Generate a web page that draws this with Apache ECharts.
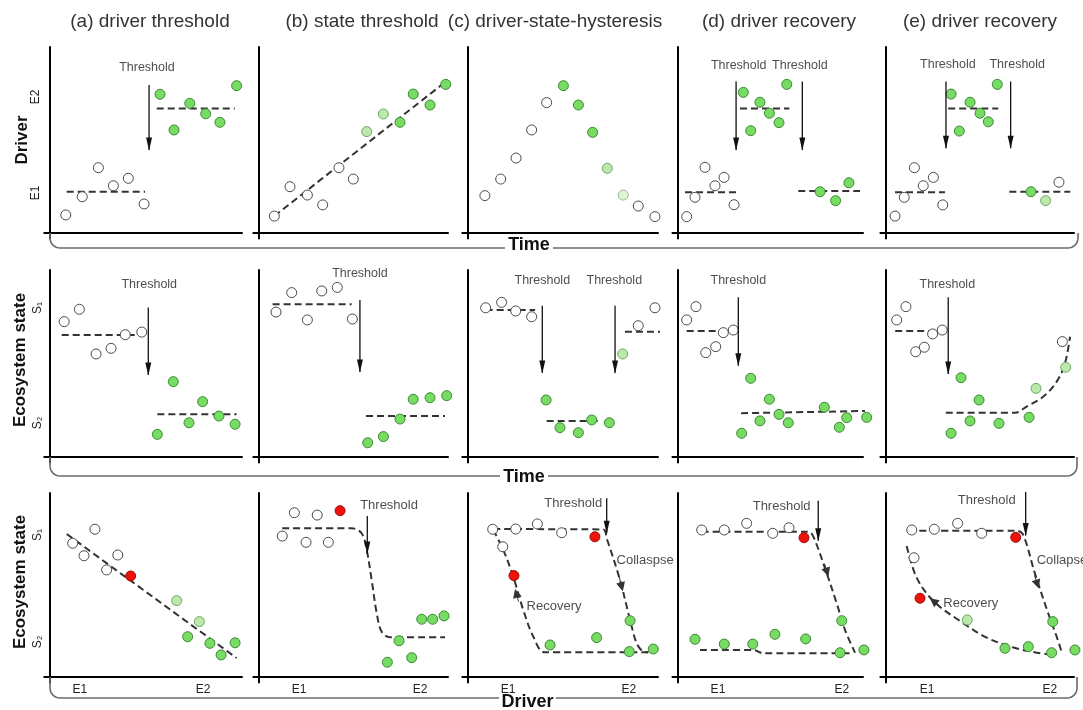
<!DOCTYPE html>
<html><head><meta charset="utf-8">
<script src="https://cdn.jsdelivr.net/npm/echarts@6/dist/echarts.min.js"></script>
<style>html,body{margin:0;padding:0;background:#fff}#c{width:1083px;height:710px}</style>
</head><body><div id="c"></div>
<script>
// ================= DATA =================
const panelTitles = ['(a) driver threshold', '(b) state threshold', '(c) driver-state-hysteresis', '(d) driver recovery', '(e) driver recovery'];
const rowTitles = ['Driver', 'Ecosystem state', 'Ecosystem state'];
const bracketNames = ['Time', 'Time', 'Driver'];
const rowTickLabels = [['E1', 'E2'], ['S\u2081', 'S\u2082'], ['S\u2081', 'S\u2082']];
const rowTickValues = [[21.5, 73.1], [79.7, 18.2], [77.2, 19.0]];
const driverTickLabels = ['E1', 'E2'];
const a3Ticks = [15.6, 79.7], b3Ticks = [21.2, 85.2], c3Ticks = [21.1, 84.7], d3Ticks = [21.6, 88.6], e3Ticks = [21.8, 87.2];

// Row 1: driver over time
const a1Open = [[8.2,9.7],[16.8,19.5],[25.2,35.1],[33.0,25.4],[40.8,29.4],[49.0,15.6]];
const a1Green = [[57.3,74.6],[64.6,55.4],[72.8,69.7],[81.1,64.1],[88.5,59.5],[97.2,79.2]];
const a1Fits = [[[8.7,22.2],[49.5,22.2]], [[55.6,67.0],[96.2,67.0]]];
const a1Arrows = [[51.6,79.6,44.6]];
const a1Notes = [[50.5,88.7,'Threshold']];

const b1Open = [[8.1,9.1],[16.4,24.9],[25.6,20.4],[33.7,15.1],[42.3,35.1],[49.9,29.0]];
const b1Light = [[57.0,54.5],[65.8,64.0]];
const b1Green = [[74.6,59.5],[81.6,74.7],[90.5,68.8],[98.8,79.9]];
const b1Fits = [[[8.1,9.1],[100,82.3]]];

const c1Open = [[8.9,20.1],[17.2,29.0],[25.3,40.3],[33.5,55.4],[41.4,70.1],[89.6,14.5],[98.4,8.8]];
const c1Green = [[50.2,79.2],[58.1,68.8],[65.6,54.1]];
const c1Light = [[73.3,34.8]];
const c1Pale = [[81.7,20.4]];

const d1Open = [[4.7,8.8],[9.2,19.2],[14.6,35.3],[20.0,25.4],[24.9,29.9],[30.3,15.2]];
const d1Green = [[35.3,75.6],[39.3,55.0],[44.3,70.3],[49.4,64.4],[54.6,59.3],[58.8,79.9],[76.8,22.2],[85.2,17.4],[92.4,27.0]];
const d1Fits = [[[3.8,21.9],[31.7,21.9]], [[33.5,67.0],[60.2,67.0]], [[65.0,22.6],[98.4,22.6]]];
const d1Arrows = [[31.4,81.4,44.6],[67.2,81.4,44.6]];
const d1Notes = [[32.8,89.9,'Threshold'],[65.9,89.9,'Threshold']];

const e1Open = [[4.8,9.1],[9.7,19.2],[15.1,35.1],[19.8,25.4],[25.2,29.9],[30.2,15.1],[92.0,27.3]];
const e1Green = [[34.6,74.7],[39.0,54.8],[44.7,70.3],[50.0,64.4],[54.4,59.8],[59.2,79.9],[77.1,22.2]];
const e1Light = [[84.9,17.4]];
const e1Fits = [[[4.8,21.9],[31.4,21.9]], [[33.1,67.0],[59.7,67.0]], [[65.6,22.2],[98.0,22.2]]];
const e1Arrows = [[31.9,81.4,45.5],[66.3,81.4,45.5]];
const e1Notes = [[32.9,90.3,'Threshold'],[69.8,90.3,'Threshold']];

// Row 2: ecosystem state over time
const a2Open = [[7.4,72.4],[15.3,79.0],[24.0,55.1],[31.8,58.1],[39.2,65.4],[47.8,66.8]];
const a2Green = [[55.9,12.1],[64.2,40.3],[72.4,18.3],[79.5,29.6],[88.0,21.9],[96.4,17.5]];
const a2Fits = [[[6.1,65.2],[46.9,65.2]], [[55.9,22.8],[97.2,22.8]]];
const a2Arrows = [[51.2,80.0,43.9]];
const a2Notes = [[51.7,92.0,'Threshold']];

const b2Open = [[9.0,77.5],[17.3,87.9],[25.6,73.3],[33.2,88.8],[41.4,90.7],[49.4,73.8]];
const b2Green = [[57.5,7.6],[65.8,10.9],[74.6,20.3],[81.6,30.9],[90.5,31.7],[99.3,32.8]];
const b2Fits = [[[7.2,81.7],[49.0,81.7]], [[56.6,21.9],[98.4,21.9]]];
const b2Arrows = [[53.4,84.0,45.4]];
const b2Notes = [[53.4,97.9,'Threshold']];

const c2Open = [[9.3,79.8],[17.7,82.7],[25.1,78.1],[33.5,75.0],[89.6,70.2],[98.4,79.8]];
const c2Green = [[41.1,30.5],[48.4,15.7],[58.1,13.0],[65.1,19.8],[74.4,18.3]];
const c2Light = [[81.4,55.1]];
const c2Fits = [[[9.3,78.6],[35.3,78.6]], [[41.4,19.3],[69.5,19.3]], [[82.6,67.0],[102.8,67.0]]];
const c2Arrows = [[39.1,80.9,44.9],[77.4,80.9,44.9]];
const c2Notes = [[39.1,94.1,'Threshold'],[77.0,94.1,'Threshold']];

const d2Open = [[4.7,73.3],[9.7,80.4],[15.0,55.8],[20.4,59.0],[24.5,66.5],[29.9,67.9]];
const d2Green = [[34.4,12.7],[39.3,42.1],[44.3,19.3],[49.4,30.9],[54.6,22.8],[59.6,18.3],[79.1,26.6],[87.2,15.9],[91.2,21.0],[102.0,21.2]];
const d2Fits = [[[4.7,67.4],[31.0,67.4]], [[34.1,23.4],[101.1,24.6]]];
const d2Arrows = [[32.6,85.4,48.8]];
const d2Notes = [[32.6,94.2,'Threshold']];

const e2Open = [[5.7,73.3],[10.6,80.4],[15.8,56.3],[20.4,58.7],[24.8,65.8],[29.9,67.9],[93.8,61.7]];
const e2Green = [[34.6,12.7],[39.9,42.4],[44.7,19.3],[49.5,30.5],[60.1,18.0],[76.1,21.2]];
const e2Light = [[79.8,36.7],[95.6,48.0]];
const e2Fits = [[[4.9,67.4],[32.3,67.4]], [[31.8,23.7],[68.6,23.7],[74.8,27.0],[83.7,32.3],[90.8,40.3],[95.2,50.1],[97.9,64.3]]];
const e2Arrows = [[33.1,85.4,44.4]];
const e2Notes = [[32.6,92.0,'Threshold']];

// Row 3: ecosystem state vs driver
const a3Open = [[11.8,72.7],[17.7,65.9],[23.4,80.3],[29.5,58.2],[35.3,66.3]];
const a3Red = [[42.0,54.9]];
const a3Light = [[66.0,41.5],[77.8,30.1]];
const a3Green = [[71.7,21.9],[83.3,18.3],[89.1,12.0],[96.4,18.6]];
const a3Fits = [[[8.7,77.7],[97.2,10.3]]];

const b3Open = [[12.3,76.6],[18.7,89.3],[24.9,73.2],[30.8,88.0],[36.7,73.2]];
const b3Red = [[42.9,90.4]];
const b3Green = [[67.9,8.0],[74.1,19.7],[80.8,10.5],[86.1,31.4],[91.9,31.4],[97.9,33.2]];
const b3Fits = [[[12.3,80.8],[49.0,80.8],[54.3,78.1],[57.0,69.0],[59.6,52.7],[62.3,34.6],[64.9,24.6],[69.3,21.6],[98.4,21.6]]];
const b3Arrows = [[57.3,87.5,66.8]];
const b3Notes = [[68.8,93.5,'Threshold']];

const c3Open = [[13.0,80.3],[18.3,70.8],[25.1,80.4],[36.5,83.2],[49.3,78.4]];
const c3Red = [[66.8,76.2],[24.2,55.1]];
const c3Green = [[43.2,17.4],[67.7,21.4],[85.3,30.6],[84.9,13.8],[97.5,15.2]];
const c3Fits = [[[13.3,80.4],[71.2,80.2],[73.0,75.4],[80.0,52.7],[85.3,31.0],[88.8,18.3],[92.3,13.8],[94.9,13.4]],
                [[94.9,13.4],[40.5,13.4],[34.4,21.9],[29.1,36.4],[23.8,54.5],[18.6,69.0],[13.3,79.9]]];
const c3Arrows = [[73.0,97.1,78.1]];
const c3Flow = [[[79.6,54.3],[80.9,49.0]], [[26.6,41.0],[25.4,45.5]]];
const c3Notes = [[55.4,94.6,'Threshold'],[93.2,63.6,'Collaspse'],[45.3,38.2,'Recovery']];

const d3Open = [[12.8,79.9],[25.0,79.9],[37.1,83.5],[51.2,78.1],[60.0,81.1]];
const d3Red = [[68.1,75.7]];
const d3Green = [[9.2,20.5],[25.0,17.9],[40.4,17.9],[52.4,23.2],[69.0,20.7],[88.5,30.6],[87.6,13.2],[100.5,14.7]];
const d3Fits = [[[12.8,78.9],[70.5,78.9],[73.2,76.2],[80.4,56.3],[85.8,40.0],[90.3,25.5],[95.7,13.2]],
                [[11.9,14.7],[40.7,14.7],[46.1,12.9],[94.8,12.9]]];
const d3Arrows = [[75.8,95.8,74.1]];
const d3Flow = [[[79.2,61.5],[80.6,57.0]]];
const d3Notes = [[56.0,92.9,'Threshold']];

const e3Open = [[13.7,79.9],[14.9,64.8],[25.7,80.3],[38.1,83.5],[50.9,78.1]];
const e3Red = [[69.0,75.9],[18.1,42.8]];
const e3Light = [[43.2,31.0]];
const e3Green = [[63.3,15.6],[75.7,16.5],[88.1,13.2],[88.7,30.1],[100.5,14.7]];
const e3Fits = [[[11.9,79.5],[69.5,79.5],[73.0,77.2],[79.2,56.3],[86.3,34.6],[90.8,21.9],[93.4,13.8]],
                [[11.0,71.2],[16.3,54.0],[25.2,41.3],[39.4,30.4],[53.6,21.4],[67.8,16.0],[80.2,13.2],[89.0,12.0]]];
const e3Arrows = [[74.3,100.5,76.9]];
const e3Flow = [[[79.0,55.2],[80.5,50.5]], [[28.5,38.7],[25.2,41.3]]];
const e3Notes = [[53.6,96.2,'Threshold'],[93.6,63.4,'Collapse'],[45.1,39.8,'Recovery']];

// ================= LAYOUT =================
const FONT = '"Liberation Sans", Arial, Helvetica, sans-serif';
const COLS = [[50,242],[259,448],[468,658],[678,863],[886,1074]];   // y-axis x, x-axis right end
const ROWS = [[47,233],[270,457],[493,677]];                        // y-axis top, x-axis y
const EXT = 3;
const titleX = [150, 362, 555, 779, 980];
const rowTitlePos = [[22,140],[20,360],[20,582]];
const rowTickMargin = [3, 1, 1];
const bracketY = [248, 476, 698];
const bracketRight = [1078, 1077, 1077];
const bracketText = [[508, 550, 245], [503, 545, 477], [502, 553, 702]];   // text left, right, y

const panels = [
  [
    {open:a1Open, green:a1Green, fits:a1Fits, arrows:a1Arrows, notes:a1Notes},
    {open:b1Open, green:b1Green, light:b1Light, fits:b1Fits},
    {open:c1Open, green:c1Green, light:c1Light, pale:c1Pale},
    {open:d1Open, green:d1Green, fits:d1Fits, arrows:d1Arrows, notes:d1Notes},
    {open:e1Open, green:e1Green, light:e1Light, fits:e1Fits, arrows:e1Arrows, notes:e1Notes}
  ],
  [
    {open:a2Open, green:a2Green, fits:a2Fits, arrows:a2Arrows, notes:a2Notes},
    {open:b2Open, green:b2Green, fits:b2Fits, arrows:b2Arrows, notes:b2Notes},
    {open:c2Open, green:c2Green, light:c2Light, fits:c2Fits, arrows:c2Arrows, notes:c2Notes},
    {open:d2Open, green:d2Green, fits:d2Fits, arrows:d2Arrows, notes:d2Notes},
    {open:e2Open, green:e2Green, light:e2Light, fits:e2Fits, arrows:e2Arrows, notes:e2Notes, smooth:true}
  ],
  [
    {open:a3Open, green:a3Green, light:a3Light, red:a3Red, fits:a3Fits, ticks:a3Ticks},
    {open:b3Open, green:b3Green, red:b3Red, fits:b3Fits, arrows:b3Arrows, notes:b3Notes, ticks:b3Ticks, smooth:true},
    {open:c3Open, green:c3Green, red:c3Red, fits:c3Fits, arrows:c3Arrows, flow:c3Flow, notes:c3Notes, ticks:c3Ticks, smooth:true},
    {open:d3Open, green:d3Green, red:d3Red, fits:d3Fits, arrows:d3Arrows, flow:d3Flow, notes:d3Notes, ticks:d3Ticks, smooth:true},
    {open:e3Open, green:e3Green, light:e3Light, red:e3Red, fits:e3Fits, arrows:e3Arrows, flow:e3Flow, notes:e3Notes, ticks:e3Ticks, smooth:true}
  ]
];

const dotStyles = {
  open:  {color:'#ffffff', borderColor:'#4a4a4a', borderWidth:1, opacity:1},
  green: {color:'#78dc64', borderColor:'#3b8a33', borderWidth:1, opacity:1},
  light: {color:'#bce9ab', borderColor:'#6ea865', borderWidth:1, opacity:1},
  pale:  {color:'#e0f4d6', borderColor:'#98bb90', borderWidth:1, opacity:1},
  red:   {color:'#ee1208', borderColor:'#9a0e0e', borderWidth:1, opacity:1}
};

const grids = [], xAxes = [], yAxes = [], series = [];
panels.forEach((row, r) => {
  row.forEach((p, c) => {
    const idx = grids.length;
    const [V, R] = COLS[c], [T, H] = ROWS[r];
    const ux = (R - V) / 100, uy = (H - T) / 100;
    grids.push({left: V - EXT*ux, top: T, width: (100+EXT)*ux, height: (100+EXT)*uy});
    const xt = p.ticks;
    xAxes.push({
      gridIndex: idx, type: 'value', min: -EXT, max: 100,
      axisLine: {show: true, onZero: true, lineStyle: {color: '#000', width: 2}},
      axisTick: {show: false}, splitLine: {show: false},
      axisLabel: xt ? {show: true, customValues: xt, margin: 1, fontSize: 12, color: '#222', fontFamily: FONT,
                       formatter: v => driverTickLabels[xt.indexOf(v)]} : {show: false}
    });
    const yt = c === 0 ? rowTickValues[r] : null;
    yAxes.push({
      gridIndex: idx, type: 'value', min: -EXT, max: 100,
      axisLine: {show: true, onZero: true, lineStyle: {color: '#000', width: 2}},
      axisTick: {show: false}, splitLine: {show: false},
      axisLabel: yt ? {show: true, customValues: yt, rotate: 90, margin: rowTickMargin[r], fontSize: 12, color: '#222', fontFamily: FONT,
                       formatter: v => rowTickLabels[r][yt.indexOf(v)]} : {show: false}
    });
    const base = {xAxisIndex: idx, yAxisIndex: idx, silent: true, animation: false};
    (p.fits || []).forEach(f => series.push(Object.assign({}, base, {
      type: 'line', data: f, symbol: 'none', showSymbol: false, clip: false, z: 3,
      smooth: p.smooth && f.length > 2 ? 0.35 : false,
      lineStyle: {color: '#333', width: 2, type: [7, 4]}
    })));
    (p.arrows || []).forEach(a => series.push(Object.assign({}, base, {
      type: 'line', clip: false, z: 6,
      lineStyle: {color: '#111', width: 1.3},
      itemStyle: {color: '#111'},
      data: [{value: [a[0], a[1]], symbol: 'none'},
             {value: [a[0], a[2]], symbol: 'triangle', symbolSize: [6, 13], symbolRotate: 180, symbolOffset: [0, -6]}]
    })));
    if (p.flow) series.push(Object.assign({}, base, {
      type: 'lines', coordinateSystem: 'cartesian2d', clip: false, z: 6,
      symbol: ['none', 'triangle'], symbolSize: 9,
      lineStyle: {color: '#333', width: 1, opacity: 1},
      itemStyle: {color: '#333'},
      data: p.flow.map(s => ({coords: s}))
    }));
    ['open', 'light', 'pale', 'green', 'red'].forEach(k => {
      if (!p[k]) return;
      series.push(Object.assign({}, base, {
        type: 'scatter', data: p[k], symbol: 'circle', symbolSize: 10, clip: false, z: 5,
        itemStyle: dotStyles[k]
      }));
    });
    if (p.notes) series.push(Object.assign({}, base, {
      type: 'scatter', symbol: 'circle', symbolSize: 1, clip: false, z: 7,
      itemStyle: {color: 'rgba(0,0,0,0)'},
      data: p.notes.map(n => ({value: [n[0], n[1]], name: n[2]})),
      label: {show: true, position: 'inside', formatter: '{b}', fontSize: r === 2 ? 13 : 12.5,
              color: '#222', fontFamily: FONT}
    }));
  });
});

// graphic: titles, row titles, brackets
const graphic = [];
panelTitles.forEach((t, i) => graphic.push({
  type: 'text', x: titleX[i], y: 22,
  style: {text: t, font: '19px ' + FONT, fill: '#333', textAlign: 'center', textVerticalAlign: 'middle', verticalAlign: 'middle'}
}));
rowTitles.forEach((t, i) => graphic.push({
  type: 'text', x: rowTitlePos[i][0], y: rowTitlePos[i][1], rotation: Math.PI / 2,
  style: {text: t, font: 'bold 17px ' + FONT, fill: '#111', textAlign: 'center', textVerticalAlign: 'middle', verticalAlign: 'middle'}
}));
function arcPts(cx, cy, rad, a0, a1) {
  const pts = [];
  for (let i = 0; i <= 8; i++) { const a = a0 + (a1 - a0) * i / 8; pts.push([cx + rad * Math.cos(a), cy + rad * Math.sin(a)]); }
  return pts;
}
ROWS.forEach((row, i) => {
  const top = row[1], yb = bracketY[i], L = COLS[0][0], Rr = bracketRight[i], rad = 10;
  const [tl, tr, ty] = bracketText[i];
  const left = [[L, top]].concat(arcPts(L + rad, yb - rad, rad, Math.PI, Math.PI / 2)).concat([[tl - 3, yb]]);
  const right = [[tr + 3, yb]].concat(arcPts(Rr - rad, yb - rad, rad, Math.PI / 2, 0)).concat([[Rr, top]]);
  graphic.push({type: 'polyline', shape: {points: left}, style: {stroke: '#6a6a6a', lineWidth: 1.6, fill: null}, z: 1});
  graphic.push({type: 'polyline', shape: {points: right}, style: {stroke: '#6a6a6a', lineWidth: 1.6, fill: null}, z: 1});
  graphic.push({
    type: 'text', x: (tl + tr) / 2, y: ty, z: 2,
    style: {text: bracketNames[i], font: 'bold 18px ' + FONT, fill: '#111', textAlign: 'center', textVerticalAlign: 'middle',
            verticalAlign: 'middle'}
  });
});

const chart = echarts.init(document.getElementById('c'), null, {renderer: 'canvas'});
chart.setOption({
  animation: false,
  backgroundColor: '#fff',
  grid: grids, xAxis: xAxes, yAxis: yAxes, series: series, graphic: graphic
});
</script></body></html>
